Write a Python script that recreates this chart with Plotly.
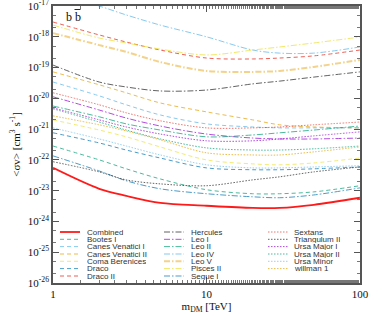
import plotly.graph_objects as go

# dark matter mass [TeV]
mass = [1, 2, 3, 5, 10, 20, 30, 50, 100]

# log10(<sigma v> / cm^3 s^-1)
combined = [-22.26, -22.94, -23.17, -23.40, -23.49, -23.56, -23.56, -23.46, -23.23]
bootes_1 = [-21.55, -22.00, -22.29, -22.62, -22.97, -23.10, -23.10, -23.04, -22.84]
canes_venatici_1 = [-19.47, -19.92, -20.21, -20.54, -20.83, -20.93, -20.96, -20.96, -20.96]
canes_venatici_2 = [-19.14, -19.56, -19.82, -20.15, -20.44, -20.70, -20.86, -20.93, -20.96]
coma_berenices = [-20.70, -21.03, -21.25, -21.58, -22.00, -22.13, -22.16, -22.10, -21.94]
draco = [-21.12, -21.45, -21.68, -21.94, -22.26, -22.32, -22.32, -22.29, -22.23]
draco_2 = [-17.52, -17.94, -18.17, -18.43, -18.69, -18.72, -18.69, -18.62, -18.43]
hercules = [-18.92, -19.47, -19.63, -19.76, -19.73, -19.53, -19.44, -19.31, -19.14]
leo_1 = [-19.95, -20.38, -20.64, -20.90, -21.16, -21.29, -21.32, -21.32, -21.29]
leo_2 = [-20.25, -20.60, -20.83, -21.03, -21.25, -21.19, -21.12, -21.03, -20.90]
leo_4 = [-16.55, -17.00, -17.29, -17.62, -18.00, -18.43, -18.53, -18.53, -18.33]
leo_5 = [-17.88, -18.27, -18.49, -18.82, -19.11, -19.14, -19.11, -18.98, -18.75]
pisces_2 = [-17.62, -18.04, -18.20, -18.40, -18.59, -18.43, -18.33, -18.20, -18.01]
segue_1 = [-21.87, -22.36, -22.68, -22.94, -23.10, -23.20, -23.23, -23.14, -22.91]
sextans = [-19.82, -20.21, -20.47, -20.73, -20.96, -20.96, -20.93, -20.86, -20.77]
triangulum_2 = [-22.06, -22.39, -22.65, -22.78, -22.84, -22.65, -22.55, -22.39, -22.23]
ursa_major_1 = [-20.31, -20.70, -20.93, -21.16, -21.38, -21.38, -21.32, -21.22, -21.09]
ursa_major_2 = [-20.34, -20.77, -21.03, -21.32, -21.61, -21.68, -21.68, -21.64, -21.55]
ursa_minor = [-20.96, -21.32, -21.55, -21.84, -22.16, -22.26, -22.26, -22.23, -22.19]
willman_1 = [-20.57, -20.86, -21.06, -21.35, -21.77, -21.84, -21.84, -21.74, -21.58]

names = ["Combined", "Bootes I", "Canes Venatici I", "Canes Venatici II", "Coma Berenices",
         "Draco", "Draco II", "Hercules", "Leo I", "Leo II", "Leo IV", "Leo V", "Pisces II",
         "Segue I", "Sextans", "Triangulum II", "Ursa Major I", "Ursa Major II",
         "Ursa Minor", "willman 1"]
series = [combined, bootes_1, canes_venatici_1, canes_venatici_2, coma_berenices, draco,
          draco_2, hercules, leo_1, leo_2, leo_4, leo_5, pisces_2, segue_1, sextans,
          triangulum_2, ursa_major_1, ursa_major_2, ursa_minor, willman_1]

y_tick_exp = [-17, -18, -19, -20, -21, -22, -23, -24, -25, -26]
x_tick_vals = [1, 10, 100]
x_tick_text = ["1", "10", "100"]

# styles
PURPLE, GREEN, SKY, ORANGE, YELLOW, BLUE, RED, BLACK = (
    "#9400d3", "#009e73", "#56b4e9", "#e69f00", "#f0e442", "#0072b2", "#e51e10", "#222222")
DASH, DOT, DASHDOT = "4px,3px", "1.5px,1.5px", "6px,2px,1.5px,2px"
styles = [
    ("#ff1a1a", "solid", 1.8, 1.0),
    (GREEN, DASH, 1.0, 0.7),
    (SKY, DASH, 1.0, 0.7),
    (ORANGE, DASH, 1.0, 0.7),
    (YELLOW, DASH, 1.0, 0.75),
    (BLUE, DASH, 1.0, 0.7),
    (RED, DASH, 1.0, 0.7),
    (BLACK, DASHDOT, 1.0, 0.7),
    (PURPLE, DASHDOT, 1.0, 0.7),
    (GREEN, DASHDOT, 1.0, 0.7),
    (SKY, DASHDOT, 1.0, 0.7),
    (ORANGE, DASHDOT, 2.0, 0.45),
    (YELLOW, DASHDOT, 1.0, 0.8),
    (BLUE, DASHDOT, 1.0, 0.7),
    (RED, DOT, 1.0, 0.6),
    (BLACK, DOT, 1.0, 0.7),
    (PURPLE, DOT, 1.0, 0.7),
    (GREEN, DOT, 1.0, 0.7),
    (SKY, DOT, 1.0, 0.6),
    (ORANGE, DOT, 1.0, 0.7),
]

fig = go.Figure()
order = list(range(1, len(names))) + [0]
for i in order:
    col, dash, w, op = styles[i]
    fig.add_trace(go.Scatter(
        x=mass, y=[10 ** v for v in series[i]], mode="lines", name=names[i],
        line=dict(color=col, dash=dash, width=w, shape="spline", smoothing=0.9),
        opacity=op, showlegend=False, hoverinfo="skip"))

# custom legend (3 columns)
L, T = 53.0, 6.0
W, H = 307.0, 277.0
col_line_x = [(60, 80), (164, 184), (268, 288)]
col_text_x = [86, 190, 293]
row_y = [232, 239.3, 246.6, 254, 261.3, 268.6, 276]
shapes = []
annotations = []
for k, nm in enumerate(names):
    c = 0 if k < 7 else (1 if k < 14 else 2)
    r = k if k < 7 else (k - 7 if k < 14 else k - 14)
    col, dash, w, op = styles[k]
    yp = (T + H - row_y[r]) / H
    shapes.append(dict(type="line", xref="paper", yref="paper",
                       x0=(col_line_x[c][0] - L) / W, x1=(col_line_x[c][1] - L) / W,
                       y0=yp, y1=yp, opacity=op,
                       line=dict(color=col, dash=dash, width=w)))
    annotations.append(dict(xref="paper", yref="paper", x=(col_text_x[c] - L) / W, y=yp,
                            xanchor="left", yanchor="middle", showarrow=False, text=nm,
                            borderpad=0, height=7,
                            font=dict(family="Liberation Sans", size=8, color="#333333")))

annotations.append(dict(xref="paper", yref="paper", x=(64 - L) / W, y=(T + H - 17) / H,
                        xanchor="left", yanchor="middle", showarrow=False,
                        text="b b",
                        font=dict(family="Liberation Serif", size=12, color="#111111")))
# overbar on the anti-quark
shapes.append(dict(type="line", xref="paper", yref="paper",
                   x0=(74.5 - L) / W, x1=(80.5 - L) / W,
                   y0=(T + H - 9.5) / H, y1=(T + H - 9.5) / H,
                   line=dict(color="#111111", width=0.9)))

axis_common = dict(type="log", showline=True, linecolor="#555555", linewidth=1.5,
                   mirror="allticks", ticks="inside", ticklen=6, tickcolor="#555555",
                   showgrid=False, zeroline=False, automargin=False,
                   ticklabeloverflow="allow",
                   tickfont=dict(family="Liberation Serif", size=11, color="#111111"),
                   minor=dict(ticks="inside", ticklen=3, tickcolor="#777777", showgrid=False))

fig.update_layout(
    width=374, height=314,
    margin=dict(l=53, r=14, t=6, b=31, autoexpand=False),
    paper_bgcolor="white", plot_bgcolor="white",
    xaxis=dict(range=[-0.0005, 2.0005], tickvals=x_tick_vals, ticktext=x_tick_text,
               title=dict(text="m<sub>DM</sub> [TeV]", standoff=9,
                          font=dict(family="Liberation Serif", size=11, color="#111111")),
               **axis_common),
    yaxis=dict(range=[-26.001, -16.999], tickvals=[10 ** e for e in y_tick_exp],
               ticktext=["10<sup>%d</sup>" % e for e in y_tick_exp],
               title=dict(text="&lt;\u03c3v&gt; [cm<sup>3</sup> s<sup>-1</sup>]", standoff=5,
                          font=dict(family="Liberation Serif", size=11, color="#111111")),
               **axis_common),
    shapes=shapes, annotations=annotations, showlegend=False,
)

fig.write_html("out.html", config={"displayModeBar": False},
               post_script="document.body.style.margin='0';")
